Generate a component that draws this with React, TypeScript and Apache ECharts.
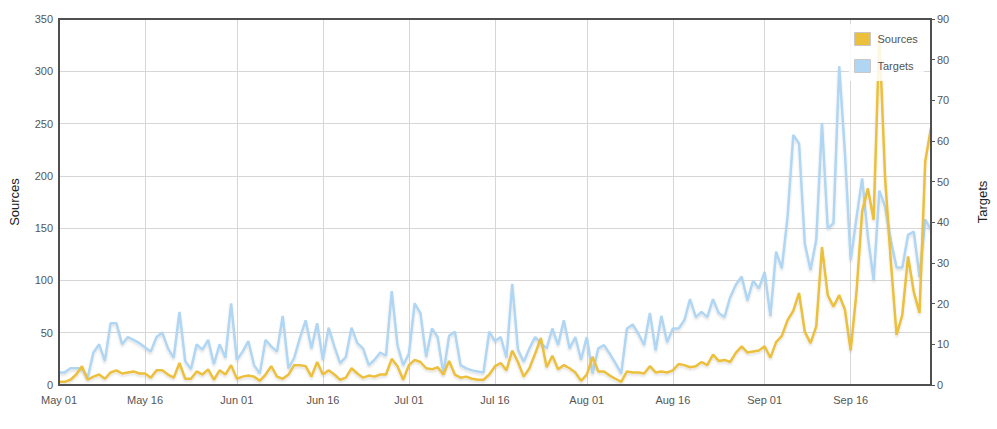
import React, { useEffect, useRef } from "react";
import * as echarts from "echarts";

const MONTHS = ["Jan", "Feb", "Mar", "Apr", "May", "Jun", "Jul", "Aug", "Sep", "Oct", "Nov", "Dec"];
const START_DATE = "2013-05-01";
const DAY_COUNT = 153; // May 01 .. Sep 30

const categories: string[] = (() => {
  const out: string[] = [];
  const d = new Date(START_DATE + "T00:00:00Z");
  for (let i = 0; i < DAY_COUNT; i++) {
    const dd = new Date(d.getTime() + i * 86400000);
    const day = dd.getUTCDate();
    out.push(MONTHS[dd.getUTCMonth()] + " " + (day < 10 ? "0" + day : "" + day));
  }
  return out;
})();

// Sources (left axis)
const sources: number[] = [
  3, 3, 5, 10, 18, 5, 8, 10, 6, 12, 14, 11, 12, 13, 11, 11, 7, 14, 14, 10, 7, 21, 6, 6, 13, 10, 15, 5, 14, 10, 19,
  6, 8, 9, 8, 4, 10, 18, 8, 6, 10, 19, 19, 18, 8, 22, 10, 14, 10, 5, 7, 16, 11, 7, 9, 8, 10, 10, 25, 18, 5,
  19, 24, 22, 16, 15, 17, 10, 23, 10, 7, 8, 6, 5, 5, 10, 18, 21, 14, 33, 22, 8, 16, 30, 45, 17, 28, 15, 19, 16, 12, 4,
  10, 27, 13, 13, 9, 6, 3, 13, 12, 12, 11, 18, 12, 13, 12, 14, 20, 19, 17, 18, 22, 19, 29, 23, 24, 22, 31, 37, 31, 32,
  33, 37, 26, 41, 47, 62, 71, 88, 51, 40, 56, 132, 86, 75, 86, 72, 33, 88, 166, 188, 158, 335, 198, 118, 48, 67, 123,
  89, 69, 214, 246,
];

// Targets (right axis)
const targets: number[] = [
  3.1, 3.1, 4.1, 4.1, 4.1, 1.8, 8.0, 10.0, 5.9, 15.2, 15.2, 10.0, 11.8, 11.1, 10.3, 9.3, 8.2, 11.8, 12.9, 9.0, 6.7,
  18.0, 5.9, 3.9, 10.0, 8.7, 11.1, 5.1, 10.0, 6.7, 20.1,
  6.2, 8.2, 10.8, 4.9, 2.8, 11.1, 9.5, 8.2, 17.0, 4.1, 6.7, 11.6, 15.9, 9.0, 15.2, 6.2, 14.1, 9.5, 5.4, 6.9, 14.1,
  10.3, 9.0, 4.9, 6.2, 8.0, 7.2, 23.1, 9.8, 4.9,
  7.7, 20.1, 17.7, 6.9, 13.9, 11.8, 2.8, 12.1, 13.1, 4.9, 4.1, 3.6, 3.3, 3.1, 13.1, 10.8, 11.8, 6.7, 24.9, 8.7, 5.7,
  9.0, 11.8, 10.3, 9.0, 13.9, 9.8, 15.9, 9.0, 11.8, 6.2,
  11.8, 2.8, 9.0, 9.8, 7.7, 5.4, 2.8, 13.9, 14.9, 12.6, 9.8, 17.7, 8.5, 17.0, 10.5, 13.9, 13.9, 15.9, 21.1, 16.7,
  18.0, 16.7, 21.1, 17.7, 16.7, 21.6, 24.7, 26.7, 20.8, 25.7, 23.7,
  27.8, 17.0, 32.8, 28.7, 41.4, 61.5, 59.4, 34.8, 28.3, 35.7, 64.5, 38.5, 39.8, 78.4, 57.0, 30.7, 41.0, 50.8, 36.5,
  25.8, 47.8, 43.8, 35.6, 28.9, 28.9, 36.9, 37.7, 26.6, 40.7, 38.1,
];

const SOURCE_TICKS = { min: 0, max: 350, interval: 50 };
const TARGET_TICKS = { min: 0, max: 90, interval: 10 };

const FONT = "'Liberation Sans', Arial, Helvetica, sans-serif";
const YELLOW = "#ecbf3c";
const BLUE = "#b0d6f3";

const isLabelDay = (_i: number, v: string) => v.endsWith(" 01") || v.endsWith(" 16");

export default function App() {
  const ref = useRef<HTMLDivElement>(null);
  useEffect(() => {
    if (!ref.current) return;
    const chart = echarts.init(ref.current, undefined, { renderer: "svg" });
    chart.setOption({
      animation: false,
      backgroundColor: "#ffffff",
      textStyle: { fontFamily: FONT },
      grid: {
        left: 59,
        right: 66,
        top: 19,
        bottom: 44,
        show: true,
        borderColor: "#4f4f4f",
        borderWidth: 2,
        backgroundColor: "transparent",
        z: 3,
      },
      legend: {
        orient: "vertical",
        left: 849,
        top: 24,
        padding: [8, 6, 8, 5],
        itemGap: 13,
        itemWidth: 16,
        itemHeight: 13,
        icon: "rect",
        backgroundColor: "rgba(255,255,255,0.85)",
        itemStyle: { borderColor: "#c8c8c8", borderWidth: 1 },
        textStyle: { fontSize: 11, color: "#545454", fontFamily: FONT, padding: [0, 0, 0, 2] },
        data: ["Sources", "Targets"],
        z: 10,
      },
      xAxis: {
        type: "category",
        data: categories,
        boundaryGap: false,
        axisLine: { show: false },
        axisTick: { show: false },
        axisLabel: {
          interval: isLabelDay,
          fontSize: 11,
          color: "#555",
          margin: 9,
          fontFamily: FONT,
        },
        splitLine: { show: true, interval: isLabelDay, lineStyle: { color: "#d6d6d6", width: 1 } },
      },
      yAxis: [
        {
          type: "value",
          position: "left",
          ...SOURCE_TICKS,
          name: "Sources",
          nameLocation: "middle",
          nameRotate: 90,
          nameGap: 38,
          nameTextStyle: { fontSize: 13, color: "#222", fontFamily: FONT },
          axisLine: { show: false },
          axisTick: { show: false },
          axisLabel: { fontSize: 11, color: "#555", margin: 6, fontFamily: FONT },
          splitLine: { show: true, lineStyle: { color: "#d6d6d6", width: 1 } },
        },
        {
          type: "value",
          position: "right",
          ...TARGET_TICKS,
          name: "Targets",
          nameLocation: "middle",
          nameRotate: 90,
          nameGap: 45,
          nameTextStyle: { fontSize: 13, color: "#222", fontFamily: FONT },
          axisLine: { show: false },
          axisTick: { show: true, length: 4, lineStyle: { color: "#555" } },
          axisLabel: { fontSize: 11, color: "#555", margin: 6, fontFamily: FONT },
          splitLine: { show: false },
        },
      ],
      series: [
        {
          name: "Targets",
          type: "line",
          yAxisIndex: 1,
          data: targets,
          showSymbol: false,
          symbol: "none",
          itemStyle: { color: BLUE },
          lineStyle: {
            color: BLUE,
            width: 2.5,
            shadowColor: "rgba(0,0,0,0.12)",
            shadowBlur: 2,
            shadowOffsetY: 2,
          },
          z: 2,
        },
        {
          name: "Sources",
          type: "line",
          yAxisIndex: 0,
          data: sources,
          showSymbol: false,
          symbol: "none",
          itemStyle: { color: YELLOW },
          lineStyle: {
            color: YELLOW,
            width: 2.5,
            shadowColor: "rgba(0,0,0,0.12)",
            shadowBlur: 2,
            shadowOffsetY: 2,
          },
          z: 2,
        },
      ],
    });
    return () => chart.dispose();
  }, []);
  return (
    <div
      ref={ref}
      style={{ position: "fixed", left: 0, top: 0, width: 997, height: 429, background: "#fff" }}
    />
  );
}
